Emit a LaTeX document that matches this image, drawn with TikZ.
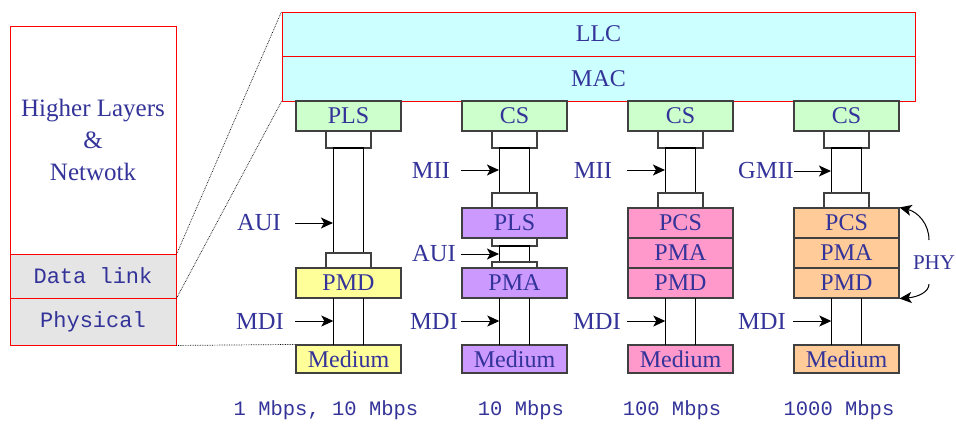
\documentclass[tikz,border=0pt]{standalone}
\usepackage{fontspec}
\setmainfont{Liberation Serif}
\setmonofont{Liberation Mono}
\usetikzlibrary{arrows.meta}
\definecolor{txt}{RGB}{51,51,153}
\definecolor{bordc}{RGB}{64,64,64}
\definecolor{cyanf}{RGB}{204,255,255}
\definecolor{greenf}{RGB}{204,255,204}
\definecolor{yellowf}{RGB}{255,255,153}
\definecolor{purplef}{RGB}{204,153,255}
\definecolor{pinkf}{RGB}{255,153,204}
\definecolor{orangef}{RGB}{255,204,153}
\definecolor{grayf}{RGB}{229,229,229}
\begin{document}
\begin{tikzpicture}[x=1pt,y=-1pt,
  box/.style={draw=bordc, line width=1.1pt, inner sep=0pt, minimum width=105pt, minimum height=30pt, text=txt, font=\fontsize{24}{24}\selectfont},
  sbox/.style={draw=bordc, line width=1.1pt, fill=white, inner sep=0pt, minimum width=45pt},
  tbox/.style={draw=black, line width=1.1pt, fill=white, inner sep=0pt, minimum width=30pt},
  gapbox/.style={inner sep=0pt, minimum width=30pt, minimum height=47pt},
  redbox/.style={draw=red, line width=0.9pt, inner sep=0pt, text=txt},
  lbl/.style={inner sep=0pt, text=txt, font=\fontsize{24.5}{24.5}\selectfont},
  mono/.style={inner sep=0pt, text=txt, font=\fontsize{20.5}{20.5}\ttfamily},
  arr/.style={draw=black, line width=1pt, -{Stealth[length=12pt,width=11pt,inset=3pt]}},
  vl/.style={draw=black, line width=1.1pt},
  dots/.style={draw=black, line width=0.7pt, densely dotted}]
\useasboundingbox (0,0) rectangle (956,426);

% left stack
\node[redbox, minimum width=166pt, minimum height=228pt, align=center, font=\fontsize{25}{32}\selectfont] (hl) at (93,140) {Higher Layers\\\&\\Netwotk};
\node[redbox, fill=grayf, minimum width=166pt, minimum height=44pt, font=\fontsize{22}{22}\ttfamily] (dl) at (93,276) {Data link};
\node[redbox, fill=grayf, minimum width=166pt, minimum height=47pt, font=\fontsize{22}{22}\ttfamily] (ph) at (93,321.5) {Physical};

% top
\node[redbox, fill=cyanf, minimum width=633pt, minimum height=44pt, font=\fontsize{24}{24}\selectfont] (llc) at (598.5,34) {LLC};
\node[redbox, fill=cyanf, minimum width=633pt, minimum height=45pt, font=\fontsize{24}{24}\selectfont] (mac) at (598.5,78.5) {MAC};

% column 1
\node[box, fill=greenf] (pls1) at (348.5,116) {PLS};
\node[sbox, minimum height=17pt] (a1) at (348.5,139.5) {};
\node[tbox, minimum height=105pt] (t1) at (348.5,200.5) {};
\node[sbox, minimum height=15pt] (b1) at (348.5,260.5) {};
\node[box, fill=yellowf] (pmd1) at (348.5,283) {PMD};
\node[gapbox] (g1) at (348.5,321.5) {};
\node[box, fill=yellowf, minimum height=28pt] (med1) at (348.5,359) {Medium};
\draw[vl] (g1.north west) -- (g1.south west);
\draw[vl] (g1.north east) -- (g1.south east);

% column 2
\node[box, fill=greenf] (cs2) at (514.5,116) {CS};
\node[sbox, minimum height=17pt] (a2) at (514.5,139.5) {};
\node[tbox, minimum height=45pt] (t2) at (514.5,170.5) {};
\node[sbox, minimum height=15pt] (b2) at (514.5,200.5) {};
\node[box, fill=purplef] (pls2) at (514.5,223) {PLS};
\node[sbox, minimum height=8pt] (c2) at (514.5,242) {};
\node[tbox, minimum height=16pt] (u2) at (514.5,254) {};
\node[sbox, minimum height=6pt] (d2) at (514.5,265) {};
\node[box, fill=purplef] (pma2) at (514.5,283) {PMA};
\node[gapbox] (g2) at (514.5,321.5) {};
\node[box, fill=purplef, minimum height=28pt] (med2) at (514.5,359) {Medium};
\draw[vl] (g2.north west) -- (g2.south west);
\draw[vl] (g2.north east) -- (g2.south east);

% column 3
\node[box, fill=greenf] (cs3) at (680.5,116) {CS};
\node[sbox, minimum height=17pt] (a3) at (680.5,139.5) {};
\node[tbox, minimum height=45pt] (t3) at (680.5,170.5) {};
\node[sbox, minimum height=15pt] (b3) at (680.5,200.5) {};
\node[box, fill=pinkf] (pcs3) at (680.5,223) {PCS};
\node[box, fill=pinkf] (pma3) at (680.5,253) {PMA};
\node[box, fill=pinkf] (pmd3) at (680.5,283) {PMD};
\node[gapbox] (g3) at (680.5,321.5) {};
\node[box, fill=pinkf, minimum height=28pt] (med3) at (680.5,359) {Medium};
\draw[vl] (g3.north west) -- (g3.south west);
\draw[vl] (g3.north east) -- (g3.south east);

% column 4
\node[box, fill=greenf] (cs4) at (846.5,116) {CS};
\node[sbox, minimum height=17pt] (a4) at (846.5,139.5) {};
\node[tbox, minimum height=45pt] (t4) at (846.5,170.5) {};
\node[sbox, minimum height=15pt] (b4) at (846.5,200.5) {};
\node[box, fill=orangef] (pcs4) at (846.5,223) {PCS};
\node[box, fill=orangef] (pma4) at (846.5,253) {PMA};
\node[box, fill=orangef] (pmd4) at (846.5,283) {PMD};
\node[gapbox] (g4) at (846.5,321.5) {};
\node[box, fill=orangef, minimum height=28pt] (med4) at (846.5,359) {Medium};
\draw[vl] (g4.north west) -- (g4.south west);
\draw[vl] (g4.north east) -- (g4.south east);

% dotted zoom lines
\draw[dots] (hl.south east) -- (llc.north west);
\draw[dots] (dl.south east) -- (mac.south west);
\draw[dots] (ph.south east) -- (med1.north west);

% interface labels and arrows
\node[lbl] (aui1) at (259,223) {AUI};
\draw[arr] (pls1.west |- aui1) -- (t1.west |- aui1);
\node[lbl] (mdi1) at (260,321) {MDI};
\draw[arr] (pls1.west |- mdi1) -- (g1.west |- mdi1);

\node[lbl] (mii2) at (431,170) {MII};
\draw[arr] (cs2.west |- mii2) -- (t2.west |- mii2);
\node[lbl] (aui2) at (434,254) {AUI};
\draw[arr] (cs2.west |- aui2) -- (u2.west |- aui2);
\node[lbl] (mdi2) at (434,321) {MDI};
\draw[arr] (cs2.west |- mdi2) -- (g2.west |- mdi2);

\node[lbl] (mii3) at (593,170) {MII};
\draw[arr] (cs3.west |- mii3) -- (t3.west |- mii3);
\node[lbl] (mdi3) at (597,321) {MDI};
\draw[arr] (cs3.west |- mdi3) -- (g3.west |- mdi3);

\node[lbl] (gmii4) at (766,171) {GMII};
\draw[arr] (gmii4.east) -- (t4.west |- gmii4);
\node[lbl] (mdi4) at (762,321) {MDI};
\draw[arr] (cs4.west |- mdi4) -- (g4.west |- mdi4);

% PHY
\node[lbl, font=\fontsize{21}{21}\selectfont] (phy) at (934,263) {PHY};
\coordinate (phytop) at (929,240);
\coordinate (phybot) at (929,284);
\draw[arr] (phytop) .. controls (929,224) and (918,212) .. (pcs4.north east);
\draw[arr] (phybot) .. controls (929,292) and (918,297) .. (pmd4.south east);

% speeds
\node[mono] (sp1) at (326,410) {1 Mbps, 10 Mbps};
\node[mono] (sp2) at (521,410) {10 Mbps};
\node[mono] (sp3) at (672,410) {100 Mbps};
\node[mono] (sp4) at (839,410) {1000 Mbps};
\end{tikzpicture}
\end{document}
